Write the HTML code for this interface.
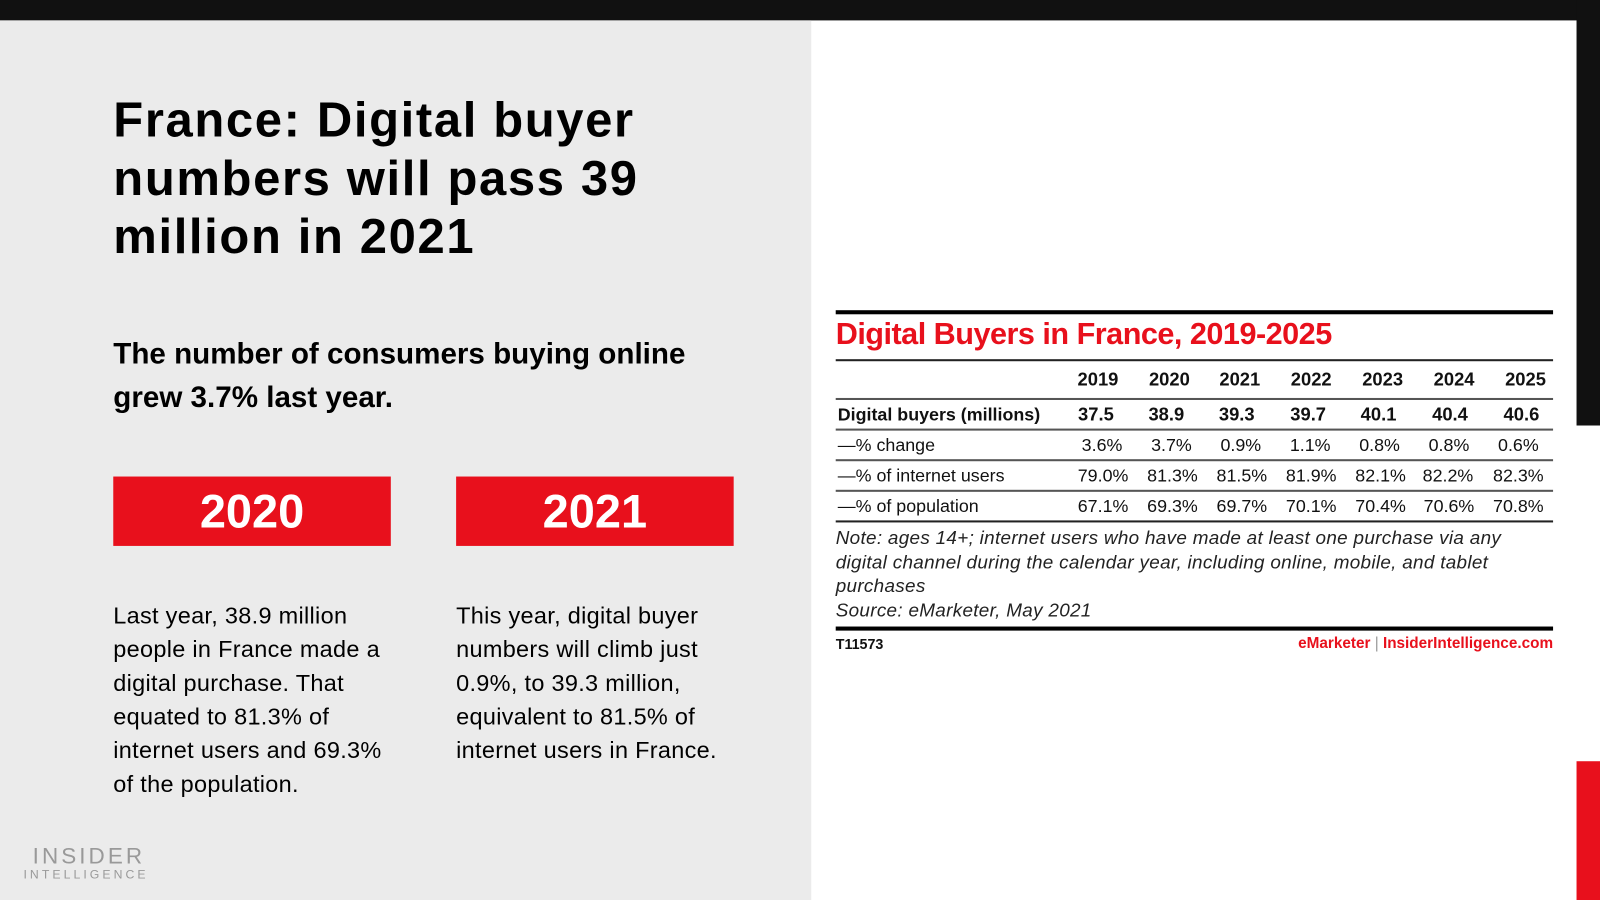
<!DOCTYPE html>
<html><head><meta charset="utf-8"><style>
*{margin:0;padding:0;box-sizing:border-box}
html,body{width:1600px;height:900px;overflow:hidden;background:#fff}
#s{position:absolute;left:0;top:0;width:1568px;height:882px;transform:scale(1.02041);transform-origin:0 0;font-family:"Liberation Sans",sans-serif;color:#111}
.a{position:absolute;white-space:nowrap}
.c{position:absolute;width:80px;margin-left:-40px;text-align:center;white-space:nowrap}
.r{position:absolute;left:819px;width:703px;background:#222}
</style></head><body><div id="s">
<div class="a" style="left:0;top:0;width:1568px;height:20px;background:#111"></div>
<div class="a" style="left:0;top:20px;width:795px;height:862px;background:#ebebeb"></div>
<div class="a" style="left:1545px;top:0;width:23px;height:417px;background:#111"></div>
<div class="a" style="left:1545px;top:746px;width:23px;height:136px;background:#e8101c"></div>

<div class="a" style="left:111px;top:90px;font-size:48px;letter-spacing:1.6px;font-weight:bold;line-height:57px;color:#000">France: Digital buyer<br>numbers will pass 39<br>million in 2021</div>
<div class="a" style="left:111px;top:326px;font-size:29px;font-weight:bold;line-height:43px;color:#000">The number of consumers buying online<br>grew 3.7% last year.</div>

<div class="a" style="left:111px;top:467px;width:272px;height:68px;background:#e8101c;color:#fff;font-size:46px;font-weight:bold;text-align:center;line-height:68px">2020</div>
<div class="a" style="left:447px;top:467px;width:272px;height:68px;background:#e8101c;color:#fff;font-size:46px;font-weight:bold;text-align:center;line-height:68px">2021</div>

<div class="a" style="left:111px;top:587px;font-size:23px;letter-spacing:0.3px;line-height:33px;color:#000">Last year, 38.9 million<br>people in France made a<br>digital purchase. That<br>equated to 81.3% of<br>internet users and 69.3%<br>of the population.</div>
<div class="a" style="left:447px;top:587px;font-size:23px;letter-spacing:0.3px;line-height:33px;color:#000">This year, digital buyer<br>numbers will climb just<br>0.9%, to 39.3 million,<br>equivalent to 81.5% of<br>internet users in France.</div>

<div class="a" style="left:32px;top:826px;font-size:22px;letter-spacing:3px;color:#999">INSIDER</div>
<div class="a" style="left:23px;top:850px;font-size:12px;letter-spacing:3px;color:#999">INTELLIGENCE</div>

<div class="r" style="top:304px;height:4px;background:#000"></div>
<div class="a" style="left:819px;top:311px;font-size:30px;font-weight:bold;color:#e8101c;letter-spacing:-0.5px">Digital Buyers in France, 2019-2025</div>
<div class="r" style="top:352px;height:2px"></div>
<div class="r" style="top:390px;height:2px;background:#555"></div>
<div class="r" style="top:420px;height:2px;background:#555"></div>
<div class="r" style="top:450px;height:2px;background:#555"></div>
<div class="r" style="top:480px;height:2px;background:#555"></div>
<div class="r" style="top:510px;height:2px"></div>
<div class="r" style="top:614px;height:4px;background:#000"></div>

<div style="font-size:18px;font-weight:bold">
<div class="c" style="left:1076px;top:362px">2019</div><div class="c" style="left:1146px;top:362px">2020</div><div class="c" style="left:1215px;top:362px">2021</div><div class="c" style="left:1285px;top:362px">2022</div><div class="c" style="left:1355px;top:362px">2023</div><div class="c" style="left:1425px;top:362px">2024</div><div class="c" style="left:1495px;top:362px">2025</div>
<div class="a" style="left:821px;top:396px;font-size:17.5px">Digital buyers (millions)</div>
<div class="c" style="left:1074px;top:396px">37.5</div><div class="c" style="left:1143px;top:396px">38.9</div><div class="c" style="left:1212px;top:396px">39.3</div><div class="c" style="left:1282px;top:396px">39.7</div><div class="c" style="left:1351px;top:396px">40.1</div><div class="c" style="left:1421px;top:396px">40.4</div><div class="c" style="left:1491px;top:396px">40.6</div>
</div>
<div style="font-size:17.5px">
<div class="a" style="left:821px;top:426px">—% change</div>
<div class="c" style="left:1080px;top:426px">3.6%</div><div class="c" style="left:1148px;top:426px">3.7%</div><div class="c" style="left:1216px;top:426px">0.9%</div><div class="c" style="left:1284px;top:426px">1.1%</div><div class="c" style="left:1352px;top:426px">0.8%</div><div class="c" style="left:1420px;top:426px">0.8%</div><div class="c" style="left:1488px;top:426px">0.6%</div>
<div class="a" style="left:821px;top:456px">—% of internet users</div>
<div class="c" style="left:1081px;top:456px">79.0%</div><div class="c" style="left:1149px;top:456px">81.3%</div><div class="c" style="left:1217px;top:456px">81.5%</div><div class="c" style="left:1285px;top:456px">81.9%</div><div class="c" style="left:1353px;top:456px">82.1%</div><div class="c" style="left:1419px;top:456px">82.2%</div><div class="c" style="left:1488px;top:456px">82.3%</div>
<div class="a" style="left:821px;top:486px">—% of population</div>
<div class="c" style="left:1081px;top:486px">67.1%</div><div class="c" style="left:1149px;top:486px">69.3%</div><div class="c" style="left:1217px;top:486px">69.7%</div><div class="c" style="left:1285px;top:486px">70.1%</div><div class="c" style="left:1353px;top:486px">70.4%</div><div class="c" style="left:1420px;top:486px">70.6%</div><div class="c" style="left:1488px;top:486px">70.8%</div>
</div>
<div class="a" style="left:819px;top:515px;font-size:18.5px;letter-spacing:0.3px;font-style:italic;line-height:23.7px;color:#222">Note: ages 14+; internet users who have made at least one purchase via any<br>digital channel during the calendar year, including online, mobile, and tablet<br>purchases<br>Source: eMarketer, May 2021</div>
<div class="a" style="left:819px;top:623px;font-size:14px;font-weight:bold">T11573</div>
<div class="a" style="left:1222px;top:622px;font-size:15px;font-weight:bold;width:300px;text-align:right"><span style="color:#e8101c">eMarketer</span> <span style="color:#999;font-weight:normal">|</span> <span style="color:#e8101c">InsiderIntelligence.com</span></div>
</div></body></html>
